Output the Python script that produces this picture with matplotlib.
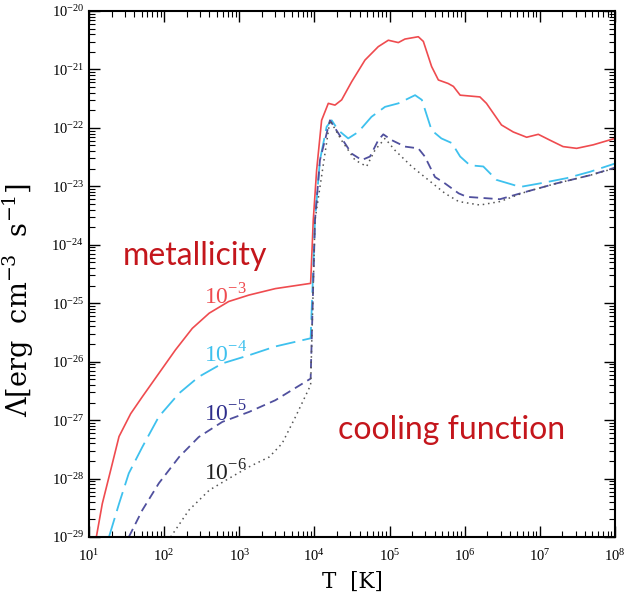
"""
Radiative cooling function for several metallicities (log-log plot).
"""

import matplotlib
matplotlib.use("Agg")
import matplotlib.pyplot as plt
import numpy as np

# log10(T [K]) and log10(Lambda), one pair per metallicity
logT_z3 = [1.098, 1.177, 1.288, 1.40, 1.555, 1.71, 1.93, 2.15, 2.375, 2.60, 2.86, 3.13,
           3.48, 3.95, 3.985, 4.03, 4.096, 4.185, 4.274, 4.363, 4.496, 4.673, 4.85, 4.984,
           5.117, 5.205, 5.383, 5.45, 5.56, 5.65, 5.78, 5.85, 5.94, 6.203, 6.29, 6.49,
           6.647, 6.825, 6.98, 7.135, 7.31, 7.49, 7.71, 8.0]
logL_z3 = [-29.0, -28.43, -27.86, -27.28, -26.89, -26.60, -26.20, -25.80, -25.43, -25.17,
           -24.97, -24.86, -24.75, -24.66, -23.58, -22.72, -21.87, -21.58, -21.61, -21.52,
           -21.21, -20.84, -20.61, -20.50, -20.54, -20.48, -20.44, -20.52, -20.95, -21.18,
           -21.24, -21.29, -21.44, -21.47, -21.58, -21.95, -22.07, -22.16, -22.11, -22.21,
           -22.32, -22.35, -22.29, -22.18]

logT_z4 = [1.266, 1.40, 1.53, 1.71, 1.93, 2.20, 2.46, 2.775, 3.13, 3.48, 3.95, 4.008,
           4.074, 4.163, 4.23, 4.318, 4.45, 4.584, 4.76, 4.94, 5.117, 5.34, 5.43, 5.56,
           5.69, 5.83, 5.94, 6.07, 6.248, 6.425, 6.74, 7.0, 7.357, 7.67, 8.0]
logL_z4 = [-29.0, -28.43, -27.91, -27.46, -26.94, -26.54, -26.26, -26.03, -25.89, -25.74,
           -25.60, -23.58, -22.55, -21.98, -21.87, -22.04, -22.18, -22.07, -21.81, -21.64,
           -21.58, -21.44, -21.52, -22.04, -22.18, -22.26, -22.49, -22.64, -22.66, -22.89,
           -23.01, -22.95, -22.86, -22.75, -22.61]

logT_z5 = [1.53, 1.71, 1.93, 2.20, 2.46, 2.775, 3.13, 3.48, 3.95, 4.008, 4.074, 4.207,
           4.318, 4.496, 4.63, 4.74, 4.85, 4.917, 5.03, 5.205, 5.383, 5.47, 5.605, 5.738,
           5.92, 6.03, 6.47, 6.825, 7.22, 7.67, 8.0]
logL_z5 = [-29.0, -28.54, -28.08, -27.63, -27.29, -27.03, -26.86, -26.66, -26.29, -23.58,
           -22.55, -21.87, -22.09, -22.44, -22.55, -22.49, -22.21, -22.11, -22.21, -22.32,
           -22.35, -22.49, -22.84, -22.95, -23.12, -23.18, -23.22, -23.09, -22.95, -22.81,
           -22.68]

logT_z6 = [2.087, 2.33, 2.60, 2.86, 3.13, 3.40, 3.57, 3.75, 3.95, 4.008, 4.207, 4.36,
           4.54, 4.695, 4.806, 4.94, 5.07, 5.295, 5.516, 5.738, 5.92, 6.203, 6.47, 6.825,
           7.22, 7.67, 8.0]
logL_z6 = [-29.0, -28.54, -28.20, -28.00, -27.80, -27.63, -27.40, -26.94, -26.40, -23.58,
           -21.87, -22.21, -22.55, -22.66, -22.38, -22.18, -22.38, -22.66, -22.89, -23.12,
           -23.26, -23.32, -23.26, -23.09, -22.95, -22.81, -22.69]

labels = [r"$10^{-3}$", r"$10^{-4}$", r"$10^{-5}$", r"$10^{-6}$"]
label_T = [660, 660, 660, 660]
label_L = [1.3e-25, 1.3e-26, 1.3e-27, 1.25e-28]

plt.rcParams["font.family"] = "Liberation Serif"
plt.rcParams["mathtext.fontset"] = "custom"
plt.rcParams["mathtext.rm"] = "Liberation Serif"

fig = plt.figure(figsize=(6.32, 6.05), dpi=100)
ax = fig.add_axes([0.1408, 0.1124, 0.8322, 0.8694])

ax.plot(10**np.array(logT_z3), 10**np.array(logL_z3), color="#ef4b4f", lw=1.2)
ax.plot(10**np.array(logT_z4), 10**np.array(logL_z4), color="#3ec1ee", lw=1.3,
        dashes=(11, 4))
ax.plot(10**np.array(logT_z5), 10**np.array(logL_z5), color="#50509e", lw=1.3,
        dashes=(5, 3))
ax.plot(10**np.array(logT_z6), 10**np.array(logL_z6), color="#555555", lw=1.1,
        dashes=(1, 2.5))

ax.set_xscale("log")
ax.set_yscale("log")
ax.set_xlim(10, 1e8)
ax.set_ylim(1e-29, 1e-20)
ax.set_xticks([10.0**k for k in range(1, 9)])
ax.set_yticks([10.0**k for k in range(-29, -19)])

ax.tick_params(which="both", direction="in", top=True, right=True, labelsize=10.5)
ax.tick_params(which="major", length=8, width=1)
ax.tick_params(which="minor", length=4, width=0.8)
ax.tick_params(axis="x", pad=8)
for s in ax.spines.values():
    s.set_linewidth(1.5)

ax.set_xlabel("T  [K]", fontsize=15.5, labelpad=5, family="DejaVu Serif")
ax.set_ylabel(r"$\Lambda[\mathrm{erg\ \ cm^{-3}\ \ s^{-1}}]$", fontsize=19.5,
              math_fontfamily="dejavuserif")
ax.yaxis.set_label_coords(-0.1, 0.45)

label_cols = ["#ef4b4f", "#3ec1ee", "#2e2e8c", "#222222"]
for txt, x, y, c in zip(labels, label_T, label_L, label_cols):
    ax.text(x, y, txt, color=c, fontsize=17, ha="center", va="center")

ax.text(0.0646, 0.534, "metallicity", transform=ax.transAxes, color="#c4161c",
        fontsize=23, family="Lato", va="center", ha="left")
ax.text(0.473, 0.2034, "cooling function", transform=ax.transAxes, color="#c4161c",
        fontsize=23, family="Lato", va="center", ha="left")

fig.savefig("out.png", dpi=100)
plt.close(fig)
